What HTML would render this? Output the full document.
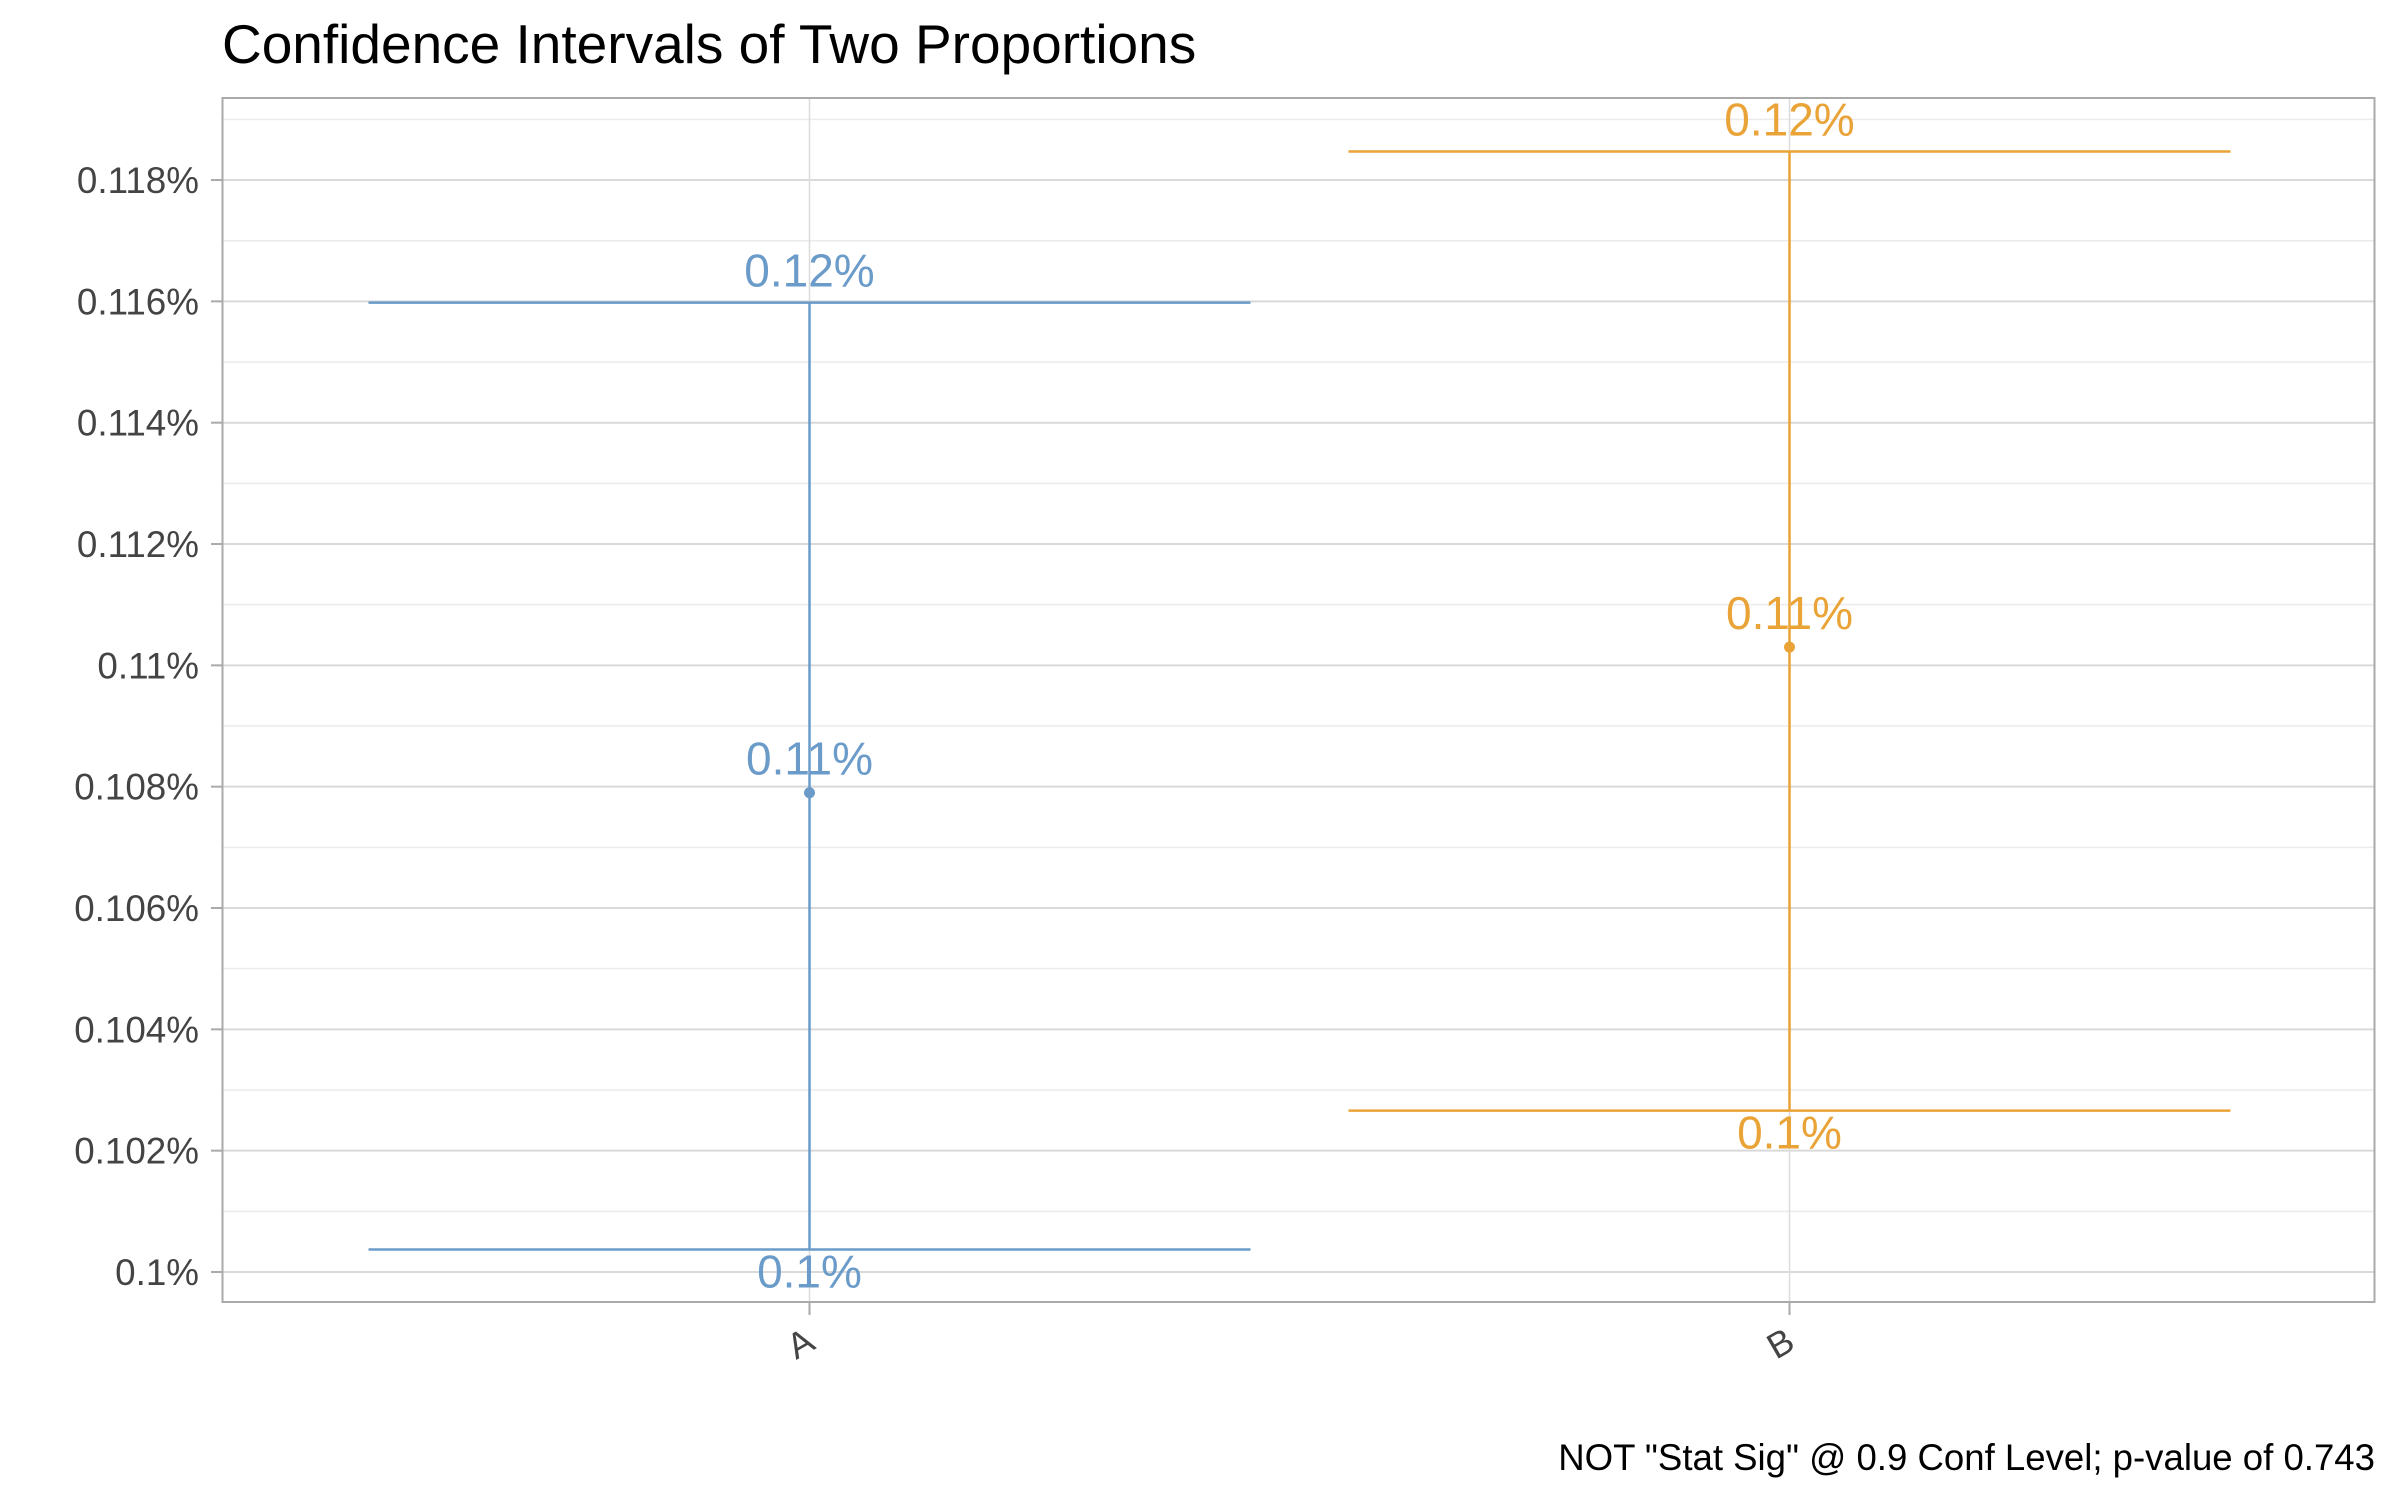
<!DOCTYPE html>
<html><head><meta charset="utf-8"><style>
html,body{margin:0;padding:0;background:#fff;}
svg{display:block;font-family:"Liberation Sans",Arial,sans-serif;}
</style></head><body>
<svg id="chart" width="2400" height="1500" viewBox="0 0 2400 1500" xmlns="http://www.w3.org/2000/svg">
<rect width="2400" height="1500" fill="#fff"/>
<text x="222" y="63" font-size="55" fill="#000">Confidence Intervals of Two Proportions</text>
<g id="grid"></g>
<g id="marks"></g>
<rect x="222.5" y="98" width="2152" height="1204" fill="none" stroke="#aaaaaa" stroke-width="2"/>
<g id="axes"></g>
<text x="2375" y="1470" font-size="36.6" text-anchor="end" fill="#000">NOT "Stat Sig" @ 0.9 Conf Level; p-value of 0.743</text>
</svg>
<script>
const categories = ["A", "B"];
const lowerValues = [0.10037, 0.10266];
const pointValues = [0.10790, 0.11030];
const upperValues = [0.11598, 0.11847];
const lowerLabels = ["0.1%", "0.1%"];
const pointLabels = ["0.11%", "0.11%"];
const upperLabels = ["0.12%", "0.12%"];
const colors = ["#6a9bc9", "#e9a337"];
const yTicks = [0.1, 0.102, 0.104, 0.106, 0.108, 0.11, 0.112, 0.114, 0.116, 0.118];
const yTickLabels = ["0.1%", "0.102%", "0.104%", "0.106%", "0.108%", "0.11%", "0.112%", "0.114%", "0.116%", "0.118%"];
const yMinor = [0.101, 0.103, 0.105, 0.107, 0.109, 0.111, 0.113, 0.115, 0.117, 0.119];

const NS = "http://www.w3.org/2000/svg";
const L = 222.5, R = 2374.5, T = 98, B = 1302;
function y(v){ return 1272 - (v - 0.1) / 0.002 * 121.33; }
function x(i){ return 809.5 + i * 980; }
const halfW = 441;
function mk(tag, attrs, parent){ const e = document.createElementNS(NS, tag); for (const k in attrs) e.setAttribute(k, attrs[k]); parent.appendChild(e); return e; }
const grid = document.getElementById('grid'), marks = document.getElementById('marks'), axes = document.getElementById('axes');

yMinor.forEach(v => {
  const g = mk('line', {x1:L, x2:R, y1:y(v), y2:y(v), stroke:'#ebebeb', 'stroke-width':1.5}, grid);
  
  
});
yTicks.forEach((v, i) => {
  const g = mk('line', {x1:L, x2:R, y1:y(v), y2:y(v), stroke:'#d9d9d9', 'stroke-width':2}, grid);
  
  
  const t = mk('line', {x1:211, x2:222, y1:y(v), y2:y(v), stroke:'#aaaaaa', 'stroke-width':2}, axes);
  
  
  const lab = mk('text', {x:199, y:y(v) + 13, 'font-size':36.8, 'text-anchor':'end', fill:'#444'}, axes);
  lab.textContent = yTickLabels[i];
  
  
});
categories.forEach((c, i) => {
  const cx = x(i);
  const g = mk('line', {x1:cx, x2:cx, y1:T, y2:B, stroke:'#dcdcdc', 'stroke-width':1.5}, grid);
  
  
  const t = mk('line', {x1:cx, x2:cx, y1:B, y2:B + 13, stroke:'#aaaaaa', 'stroke-width':2}, axes);
  
  
  const lab = mk('text', {x:0, y:0, 'font-size':36, 'text-anchor':'middle', fill:'#444', transform:`translate(${cx - 3},${B + 52}) rotate(-30)`}, axes);
  lab.textContent = c;
  
  

  const col = colors[i];
  const v = mk('line', {x1:cx, x2:cx, y1:y(upperValues[i]), y2:y(lowerValues[i]), stroke:col, 'stroke-width':2.5}, marks);
  
  
  const u = mk('line', {x1:cx - halfW, x2:cx + halfW, y1:y(upperValues[i]), y2:y(upperValues[i]), stroke:col, 'stroke-width':2.5}, marks);
  
  
  const lo = mk('line', {x1:cx - halfW, x2:cx + halfW, y1:y(lowerValues[i]), y2:y(lowerValues[i]), stroke:col, 'stroke-width':2.5}, marks);
  
  
  const p = mk('circle', {cx:cx, cy:y(pointValues[i]), r:5.5, fill:col}, marks);
  
  

  const tu = mk('text', {x:cx, y:y(upperValues[i]) - 16, 'font-size':46, 'text-anchor':'middle', fill:col}, marks);
  tu.textContent = upperLabels[i];
  
  
  const tp = mk('text', {x:cx, y:y(pointValues[i]) - 18, 'font-size':46, 'text-anchor':'middle', fill:col}, marks);
  tp.textContent = pointLabels[i];
  
  
  const tl = mk('text', {x:cx, y:y(lowerValues[i]) + 38, 'font-size':46, 'text-anchor':'middle', fill:col}, marks);
  tl.textContent = lowerLabels[i];
  
  
});
</script>
</body></html>
